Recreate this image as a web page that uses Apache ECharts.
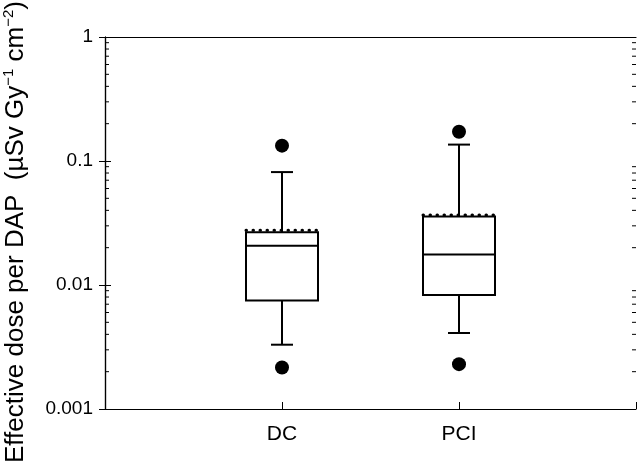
<!DOCTYPE html>
<html><head><meta charset="utf-8">
<script src="https://cdn.jsdelivr.net/npm/echarts@6/dist/echarts.min.js"></script>
<style>html,body{margin:0;padding:0;background:#fff}#c{width:640px;height:466px}</style>
</head><body><div id="c"></div>
<script>
// ---- data ----
const categories = ['DC', 'PCI'];
const categoryPos = [1, 2];
const whiskerLow = [0.0033, 0.0041];
const q1 = [0.0075, 0.0083];
const median = [0.0207, 0.0176];
const q3 = [0.0266, 0.0356];
const whiskerHigh = [0.0814, 0.1356];
const mean = [0.0277, 0.0367];
const outlierPos = [1, 1, 2, 2];
const outlierVal = [0.133, 0.00216, 0.172, 0.0023];
const yTickLabels = ['0.001', '0.01', '0.1', '1'];
const minorTickVals = [0.002,0.003,0.004,0.005,0.006,0.007,0.008,0.009,
                       0.02,0.03,0.04,0.05,0.06,0.07,0.08,0.09,
                       0.2,0.3,0.4,0.5,0.6,0.7,0.8,0.9];

const FONT = '"Liberation Sans", Arial, sans-serif';
const boxData = categoryPos.map((p, i) => [p, whiskerLow[i], q1[i], median[i], q3[i], whiskerHigh[i], mean[i]]);
const outData = outlierPos.map((p, i) => [p, outlierVal[i]]);

const chart = echarts.init(document.getElementById('c'));
chart.setOption({
  animation: false,
  backgroundColor: '#fff',
  grid: { left: 105, right: 4, top: 37, bottom: 57, containLabel: false, outerBoundsMode: 'none' },
  xAxis: [{
    type: 'value', min: 0, max: 3, interval: 1,
    axisLine: { lineStyle: { color: '#000', width: 1.2 } },
    axisTick: { inside: true, length: 7, lineStyle: { color: '#000' } },
    splitLine: { show: false },
    axisLabel: {
      fontSize: 21, fontFamily: FONT, color: '#000', margin: 15,
      formatter: v => { const i = categoryPos.indexOf(v); return i >= 0 ? categories[i] : ''; }
    }
  }, {
    type: 'value', min: 0, max: 3, position: 'top',
    axisLine: { show: true, onZero: false, lineStyle: { color: '#000', width: 1.2 } },
    axisTick: { show: false }, axisLabel: { show: false }, splitLine: { show: false }
  }],
  yAxis: [{
    type: 'log', logBase: 10, min: 0.001, max: 1,
    axisLine: { show: true, lineStyle: { color: '#000', width: 1.2 } },
    axisTick: { inside: true, length: 6, lineStyle: { color: '#000' } },
    splitLine: { show: false },
    axisLabel: {
      fontSize: 19, fontFamily: FONT, color: '#000', margin: 12,
      formatter: v => { const i = [0.001, 0.01, 0.1, 1].findIndex(t => Math.abs(Math.log10(t) - Math.log10(v)) < 1e-6); return i >= 0 ? yTickLabels[i] : ''; }
    },
    name: '{a|Effective dose per DAP  (µSv Gy}{s|−1}{a| cm}{s|−2}{a|)}',
    nameLocation: 'middle', nameGap: 74, nameRotate: 90,
    nameTextStyle: {
      padding: [0, 18, 0, 0],
      rich: {
        a: { fontSize: 26, fontFamily: FONT, color: '#000', lineHeight: 30 },
        s: { fontSize: 15, fontFamily: FONT, color: '#000', lineHeight: 16, verticalAlign: 'top' }
      }
    }
  }, {
    type: 'log', logBase: 10, min: 0.001, max: 1, position: 'right',
    axisLine: { show: true, lineStyle: { color: '#000', width: 1.2 } },
    axisTick: { inside: true, length: 6, lineStyle: { color: '#000' } },
    axisLabel: { show: false }, splitLine: { show: false }
  }],
  series: [{
    type: 'custom',
    name: 'minorTicks',
    silent: true,
    data: minorTickVals.map(v => [0, v]),
    renderItem: (params, api) => {
      const v = api.value(1);
      const l = api.coord([0, v]);
      const r = api.coord([3, v]);
      const st = { stroke: '#000', lineWidth: 1 };
      return { type: 'group', children: [
        { type: 'line', shape: { x1: l[0], y1: l[1], x2: l[0] + 4, y2: l[1] }, style: st },
        { type: 'line', shape: { x1: r[0] - 4, y1: r[1], x2: r[0], y2: r[1] }, style: st }
      ]};
    }
  }, {
    type: 'custom',
    name: 'boxes',
    data: boxData,
    renderItem: (params, api) => {
      const x = api.value(0);
      const pLow = api.coord([x, api.value(1)]);
      const pQ1 = api.coord([x, api.value(2)]);
      const pMed = api.coord([x, api.value(3)]);
      const pQ3 = api.coord([x, api.value(4)]);
      const pHigh = api.coord([x, api.value(5)]);
      const pMean = api.coord([x, api.value(6)]);
      const cx = pLow[0], bw = 72, cw = 22;
      const st = { stroke: '#000', lineWidth: 2, fill: null };
      return { type: 'group', children: [
        { type: 'line', shape: { x1: cx, y1: pLow[1], x2: cx, y2: pQ1[1] }, style: st },
        { type: 'line', shape: { x1: cx, y1: pQ3[1], x2: cx, y2: pHigh[1] }, style: st },
        { type: 'line', shape: { x1: cx - cw / 2, y1: pLow[1], x2: cx + cw / 2, y2: pLow[1] }, style: st },
        { type: 'line', shape: { x1: cx - cw / 2, y1: pHigh[1], x2: cx + cw / 2, y2: pHigh[1] }, style: st },
        { type: 'rect', shape: { x: cx - bw / 2, y: pQ3[1], width: bw, height: pQ1[1] - pQ3[1] }, style: { stroke: '#000', lineWidth: 2, fill: '#fff' } },
        { type: 'line', shape: { x1: cx - bw / 2, y1: pMed[1], x2: cx + bw / 2, y2: pMed[1] }, style: st },
        { type: 'line', shape: { x1: cx - bw / 2, y1: pMean[1], x2: cx + bw / 2, y2: pMean[1] }, style: { stroke: '#000', lineWidth: 3, lineDash: [0.5, 6.5], lineCap: 'round' } }
      ]};
    }
  }, {
    type: 'scatter',
    name: 'outliers',
    data: outData,
    symbol: 'circle', symbolSize: 14,
    itemStyle: { color: '#000', opacity: 1 }
  }]
});
</script>
</body></html>
